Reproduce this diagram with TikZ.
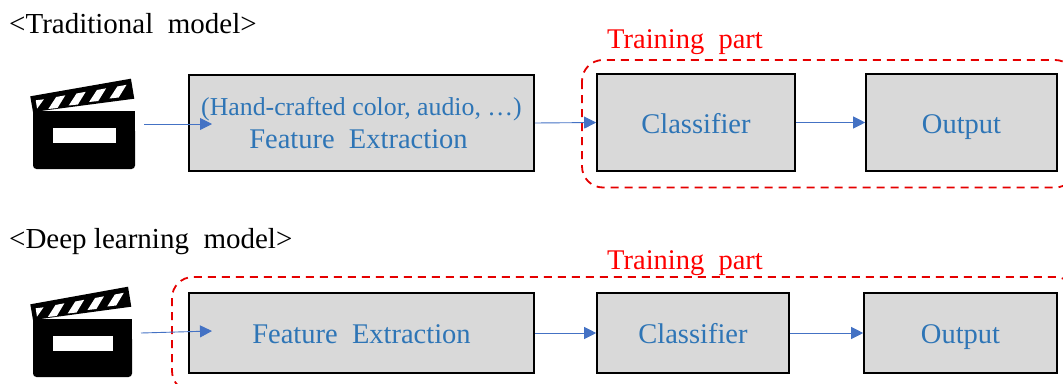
\documentclass[tikz,border=0pt]{standalone}
\usepackage{fontspec}
\setmainfont{Liberation Serif}
\usetikzlibrary{arrows.meta}
\definecolor{txtblue}{HTML}{2E75B6}
\definecolor{arrblue}{HTML}{4472C4}
\definecolor{boxgray}{HTML}{D9D9D9}
\newcommand{\wsp}{\hspace{0.5em}}
\tikzset{
  x=1pt,y=-1pt,
  procbox/.style={draw=black,line width=1.6pt,fill=boxgray,inner sep=0pt,text=txtblue,font=\fontsize{28.5}{33}\selectfont,align=center},
  flow/.style={draw=arrblue,line width=0.9pt,-{Triangle[length=12pt,width=12pt]}},
  trainbox/.style={draw=red!90!black,line width=1.8pt,dash pattern=on 8pt off 6pt,rounded corners=21pt},
  heading/.style={anchor=base west,inner sep=0pt,font=\fontsize{29}{33}\selectfont},
  trainlabel/.style={anchor=base west,inner sep=0pt,font=\fontsize{28.5}{33}\selectfont,text=red},
}
\newcommand{\clapperIcon}[3]{%
 \begin{scope}[shift={(#1,#2)},x=#3pt,y=-1pt]
  \fill[black,rounded corners=3.5pt] (0,20) -- (0,58) -- (100,58) -- (100,20);
  \fill[black] (0,30) -- (0,0) -- (100,0) -- (100,30) -- cycle;
  \fill[white] (20,17) rectangle (81,32);
  \fill[black] (-2.7,-14.7) -- (96,-32.3) -- (99.3,-12.3) -- (0,1) -- cycle;
  \fill[white] (2.7,-10.7) -- (10.7,-11.7) -- (4,-2.3) -- cycle;
  \foreach \i in {0,1,2,3}{
    \fill[white,shift={(\i*20,-\i*3.5)}] (22.7,-14) -- (31.7,-15.7) -- (24,-3) -- (15,-2) -- cycle;
  }
 \end{scope}}
\begin{document}
\begin{tikzpicture}
\useasboundingbox (0,0) rectangle (1063,383);
\clip (0,0) rectangle (1063,383);

\node[heading] (h1) at (9,33) {<Traditional\wsp model>};
\node[heading] (h2) at (9,248) {<Deep learning\wsp model>};

% dashed regions
\draw[trainbox] (582,60) rectangle (1076,187.5);
\draw[trainbox] (172,277) rectangle (1076,392);
\node[trainlabel] (t1) at (607,48) {Training\wsp part};
\node[trainlabel] (t2) at (607,269) {Training\wsp part};

% icons
\clapperIcon{33}{111}{1.02}
\clapperIcon{33}{319}{0.99}
\coordinate (s1) at (144,124);
\coordinate (e1) at (212,124);
\coordinate (s2) at (141,333);
\coordinate (e2) at (212,331);

% top row
\node[procbox,minimum width=345pt,minimum height=96pt] (fe1) at (361.5,123) {\fontsize{25.8}{35}\selectfont (Hand-crafted color, audio, …)\\ \hspace*{-6pt}\fontsize{28.5}{35}\selectfont Feature\wsp Extraction};
\node[procbox,minimum width=198pt,minimum height=97pt,text height=21pt,text depth=0pt] (cl1) at (696,122.5) {Classifier};
\node[procbox,minimum width=191pt,minimum height=97pt,text height=21pt,text depth=0pt] (ou1) at (961.5,122.5) {Output};

% bottom row
\node[procbox,minimum width=345pt,minimum height=80pt,text height=20pt,text depth=0pt] (fe2) at (361.5,333) {Feature\wsp Extraction};
\node[procbox,minimum width=192pt,minimum height=80pt,text height=20pt,text depth=0pt] (cl2) at (693,333) {Classifier};
\node[procbox,minimum width=193pt,minimum height=80pt,text height=20pt,text depth=0pt] (ou2) at (960.5,333) {Output};

% connectors
\draw[flow] (s1) -- (e1);
\draw[flow] (fe1.east) -- (cl1.west);
\draw[flow] (cl1.east) -- (ou1.west);
\draw[flow] (s2) -- (e2);
\draw[flow] (fe2.east) -- (cl2.west);
\draw[flow] (cl2.east) -- (ou2.west);
\end{tikzpicture}
\end{document}
